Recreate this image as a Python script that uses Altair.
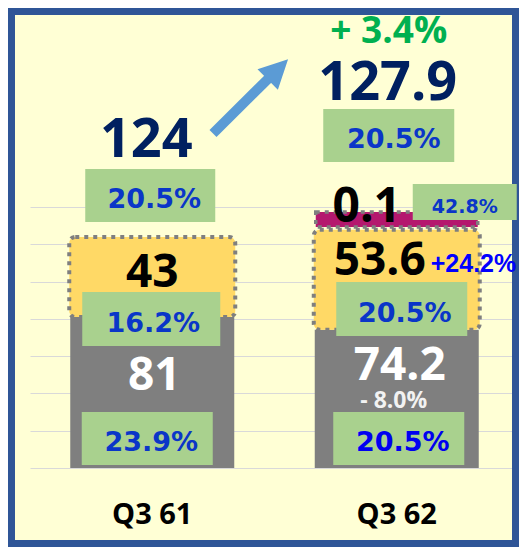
import altair as alt
import pandas as pd

# ---------------- data ----------------
categories = ["Q3 61", "Q3 62"]
gray_vals = [81.0, 74.2]
yellow_vals = [43.0, 53.6]
magenta_vals = [0.0, 0.1]
total_labels = ["124", "127.9"]
gray_labels = ["81", "74.2"]
yellow_labels = ["43", "53.6"]
magenta_label = "0.1"
total_share = ["20.5%", "20.5%"]
yellow_share = ["16.2%", "20.5%"]
gray_share = ["23.9%", "20.5%"]
magenta_share = "42.8%"
growth_total = "+ 3.4%"
growth_yellow = "+24.2%"
growth_gray = "- 8.0%"
grid_values = [0, 20, 40, 60, 80, 100, 120, 140]

# ---------------- styles ----------------
BG = "#FFFFD5"
FRAME = "#2F5597"
GRAY = "#7F7F7F"
YELLOW = "#FFD966"
MAGENTA = "#B4186E"
GREEN_BOX = "#A9D18E"
NAVY = "#002060"
GROWTH = "#00B050"
PCT_BLUE = "#0A36C8"
ARROW = "#5B9BD5"
W, H = 489, 460
YMAX = 246.8

X = alt.X("cat:N", scale=alt.Scale(domain=categories, paddingInner=0, paddingOuter=0),
          axis=alt.Axis(title=None, domain=False, ticks=False, tickSize=0, labelAngle=0,
                        labelFont="Open Sans", labelFontWeight="bold", labelFontSize=29,
                        labelColor="#000000", labelPadding=32, grid=False))
Y = alt.Y("y:Q", scale=alt.Scale(domain=[0, YMAX], nice=False, zero=True),
          axis=alt.Axis(title=None, values=grid_values, labels=False, ticks=False,
                        domain=False, grid=True, gridColor="#D9D9D9", gridWidth=1))

# ---------------- stacked segments ----------------
seg_rows = []
for i, c in enumerate(categories):
    g, yv, m = gray_vals[i], yellow_vals[i], magenta_vals[i]
    seg_rows.append({"cat": c, "seg": "gray", "y2": 0.0, "y": g})
    seg_rows.append({"cat": c, "seg": "yellow", "y2": g, "y": g + yv})
    if m > 0:
        seg_rows.append({"cat": c, "seg": "magenta", "y2": g + yv, "y": g + yv + m})
seg_df = pd.DataFrame(seg_rows)

base = alt.Chart(seg_df)
gray_bars = base.transform_filter(alt.datum.seg == "gray").mark_bar(
    width=164, color=GRAY).encode(x=X, y=Y, y2="y2:Q")
yellow_bars = base.transform_filter(alt.datum.seg == "yellow").mark_bar(
    width=166, color=YELLOW, stroke=GRAY, strokeWidth=4, strokeDash=[4, 5],
    cornerRadius=6).encode(x=X, y=Y, y2="y2:Q")
magenta_bars = base.transform_filter(alt.datum.seg == "magenta").mark_bar(
    width=162, color=MAGENTA, stroke=GRAY, strokeWidth=3.5, strokeDash=[4, 5],
    yOffset=-17.6, y2Offset=-2.8).encode(x=X, y=Y, y2="y2:Q")

# frame
frame = alt.Chart(pd.DataFrame({"k": [0]})).mark_rect(
    fillOpacity=0, stroke=FRAME, strokeWidth=7).encode(
    x=alt.value(-18.5), x2=alt.value(W - 3.5), y=alt.value(3.5), y2=alt.value(H + 79 - 3.5))


def box(cat, y0, y1, w, dx):
    df = pd.DataFrame({"cat": [cat], "y": [y1], "y2": [y0]})
    return alt.Chart(df).mark_bar(width=w, xOffset=dx, color=GREEN_BOX).encode(
        x=X, y=Y, y2="y2:Q")


def txt(cat, yv, label, size, color, font="Open Sans", dx=0, align="center"):
    df = pd.DataFrame({"cat": [cat], "y": [yv], "label": [label]})
    return alt.Chart(df).mark_text(
        align=align, baseline="alphabetic", dx=dx, fontSize=size, font=font,
        fontWeight="bold", color=color).encode(x=X, y=Y, text="label:N")


# annotation placements (data units)
total_box = [(132.0, 160.4, 130, -2), (164.2, 192.6, 131, -8)]
yellow_box = [(65.5, 94.4, 138, -1), (70.8, 99.8, 131, 5)]
gray_box = [(1.6, 30.0, 131, -5), (1.6, 30.0, 131, 2)]
magenta_box = (133.0, 152.4, 104, 68)

total_pos = [(166.8, -6), (197.4, -9)]
yellow_pos = [(97.1, 0), (103.5, -17)]
gray_pos = [(41.8, 2), (47.2, 3)]
total_share_pos = [(139.5, 2), (171.7, -3)]
yellow_share_pos = [(73.0, 1), (78.3, 8)]
gray_share_pos = [(9.1, -1), (9.1, 6)]

layers = [frame, gray_bars, yellow_bars, magenta_bars]
for i, c in enumerate(categories):
    for b in (total_box[i], yellow_box[i], gray_box[i]):
        layers.append(box(c, *b))
layers.append(box(categories[1], *magenta_box))

for i, c in enumerate(categories):
    layers.append(txt(c, total_pos[i][0], total_labels[i], 54, NAVY, dx=total_pos[i][1]))
    layers.append(txt(c, yellow_pos[i][0], yellow_labels[i], 46, "#000000", dx=yellow_pos[i][1]))
    layers.append(txt(c, gray_pos[i][0], gray_labels[i], 46, "#FFFFFF", dx=gray_pos[i][1]))
    layers.append(txt(c, total_share_pos[i][0], total_share[i], 27, PCT_BLUE,
                      font="DejaVu Sans", dx=total_share_pos[i][1]))
    layers.append(txt(c, yellow_share_pos[i][0], yellow_share[i], 27, PCT_BLUE,
                      font="DejaVu Sans", dx=yellow_share_pos[i][1]))
    layers.append(txt(c, gray_share_pos[i][0], gray_share[i], 27,
                      PCT_BLUE if i == 0 else "#0000F0",
                      font="DejaVu Sans", dx=gray_share_pos[i][1]))

layers.append(txt(categories[1], 228.0, growth_total, 37, GROWTH, dx=-8))
layers.append(txt(categories[1], 132.0, magenta_label, 48, "#000000", dx=-30))
layers.append(txt(categories[1], 136.8, magenta_share, 19, PCT_BLUE, font="DejaVu Sans", dx=68))
layers.append(txt(categories[1], 105.2, growth_yellow, 25, "#0000FF",
                  font="Liberation Sans", dx=34, align="left"))
layers.append(txt(categories[1], 32.2, growth_gray, 23, "#F2F2F2", dx=-3))

# arrow
shaft_df = pd.DataFrame({"cat": [categories[0]], "cat2": [categories[1]],
                         "y": [179.5], "y2": [209.8]})
shaft = alt.Chart(shaft_df).mark_rule(
    strokeWidth=10, color=ARROW, xOffset=60.75, x2Offset=-126.75).encode(
    x=X, x2="cat2:N", y=Y, y2="y2:Q")
head_df = pd.DataFrame({"cat": [categories[1]], "y": [213.3]})
head = alt.Chart(head_df).mark_point(
    shape="M0,-1L0.9,0.8L-0.9,0.8Z", size=1024, angle=45, filled=True,
    fill=ARROW, opacity=1, strokeWidth=0, xOffset=-120).encode(x=X, y=Y)
layers += [shaft, head]

chart = alt.layer(*layers).properties(
    width=W, height=H,
    padding={"left": 22, "top": 0, "right": 0, "bottom": 79},
    autosize=alt.AutoSizeParams(type="none"),
    background=BG,
).configure_view(fill=BG, strokeWidth=0)

chart.save("out.html", embed_options={"renderer": "svg", "actions": False})
